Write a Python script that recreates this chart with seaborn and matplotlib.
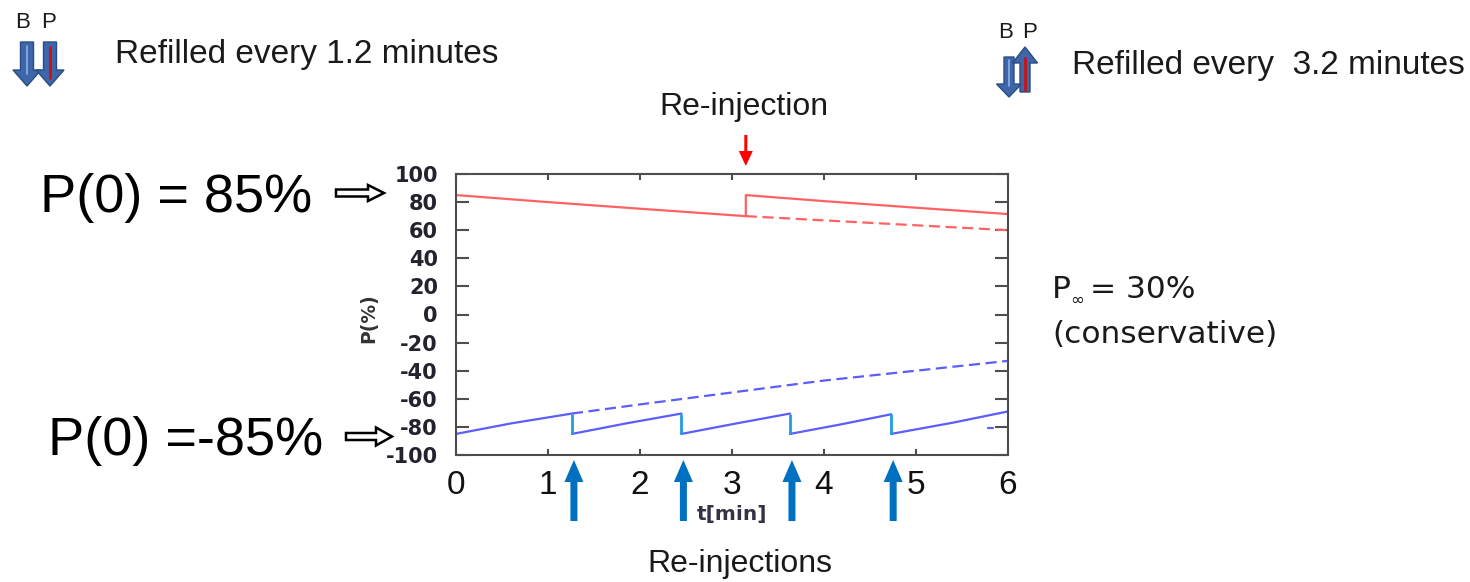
import numpy as np
import pandas as pd
import matplotlib
matplotlib.use("Agg")
import matplotlib.pyplot as plt
from matplotlib.patches import FancyArrow
from matplotlib.lines import Line2D
import seaborn as sns

# ---- data -----------------------------------------------------------------
# upper cell (P(0) = 85 %): one re-injection at t = 3.15 min
red_t = [0.0, 1.0, 2.0, 3.15, 3.15, 4.0, 5.0, 6.0]
red_p = [85.0, 80.0, 75.3, 70.0, 85.0, 80.7, 76.0, 71.5]
# same cell without re-injection
red_free_t = [3.15, 4.0, 5.0, 6.0]
red_free_p = [70.0, 67.0, 63.5, 60.0]

# lower cell (P(0) = -85 %): refilled every ~1.2 min
blue_seg = [0, 0, 0, 1, 1, 1, 2, 2, 2, 3, 3, 3, 4, 4, 4, 5, 5]
blue_t = [0.0, 0.6, 1.26, 1.26, 1.85, 2.45, 2.45, 3.05, 3.63,
          3.63, 4.2, 4.73, 4.73, 5.4, 6.0, 5.78, 5.84]
blue_p = [-85.0, -77.5, -70.5, -85.0, -77.5, -70.5, -85.0, -77.5, -70.5,
          -85.0, -78.0, -71.0, -85.0, -77.0, -69.0, -80.5, -80.5]
# same cell without refills
blue_free_t = [1.26, 2.0, 3.0, 4.0, 5.0, 6.0]
blue_free_p = [-70.5, -64.0, -55.5, -47.0, -40.0, -33.0]

# refill instants and the jump they produce
refill_t = [1.26, 2.45, 3.63, 4.73]
refill_from = [-70.5, -70.5, -70.5, -71.0]
refill_to = [-85.0, -85.0, -85.0, -85.0]

x_ticks = [0, 1, 2, 3, 4, 5, 6]
y_ticks = [-100, -80, -60, -40, -20, 0, 20, 40, 60, 80, 100]

# ---- figure ---------------------------------------------------------------
W, H, DPI = 1470, 582, 100
sns.set_theme(style="white")
plt.rcParams["font.family"] = ["Liberation Sans", "DejaVu Sans"]

fig = plt.figure(figsize=(W / DPI, H / DPI), dpi=DPI)
fig.patch.set_facecolor("white")
ax = fig.add_axes([456 / W, (H - 455) / H, 552 / W, 281 / H])

RED = "#ff6262"
BLUE = "#5c5cff"
CYAN = "#1c9ee0"
LW = 1.6

df_blue = pd.DataFrame({"t": blue_t, "P": blue_p, "seg": blue_seg})

sns.lineplot(x=red_t, y=red_p, estimator=None, sort=False, color=RED, lw=LW, ax=ax)
sns.lineplot(x=red_free_t, y=red_free_p, estimator=None, sort=False, color=RED,
             lw=LW, linestyle=(0, (5, 2.5)), ax=ax)
sns.lineplot(data=df_blue, x="t", y="P", units="seg", estimator=None, sort=False,
             color=BLUE, lw=LW, ax=ax)
sns.lineplot(x=blue_free_t, y=blue_free_p, estimator=None, sort=False, color=BLUE,
             lw=LW, linestyle=(0, (5, 2.5)), ax=ax)
ax.vlines(refill_t, refill_to, refill_from, color=CYAN, lw=2)

ax.set_xlim(0, 6)
ax.set_ylim(-100, 100)
ax.set_xticks(x_ticks)
ax.set_yticks(y_ticks)
ax.set_xticklabels([str(v) for v in x_ticks])
ax.set_yticklabels([str(v) for v in y_ticks])

for s in ax.spines.values():
    s.set_visible(True)
    s.set_color("#4d4d4d")
    s.set_linewidth(1.5)

ax.tick_params(axis="y", direction="in", length=9.5, width=1.5, color="#4d4d4d",
               left=True, right=True, pad=13, labelsize=15, labelcolor="#22232e")
ax.tick_params(axis="x", direction="in", length=4, width=1.5, color="#4d4d4d",
               top=True, bottom=True, pad=11, labelsize=24, labelcolor="#111111")
for lab in ax.get_yticklabels():
    lab.set_fontfamily("DejaVu Sans")
    lab.set_fontweight("bold")

ax.set_xlabel("t[min]", fontsize=14.5, fontweight="bold", family="DejaVu Sans",
              color="#333344")
ax.xaxis.set_label_coords(0.5, -0.178)
ax.set_ylabel("P(%)", fontsize=13.5, fontweight="bold", family="DejaVu Sans",
              color="#333333")
ax.yaxis.set_label_coords(-0.141, 0.4875)


# ---- annotations (pixel positions, origin top-left) -----------------------
def fx(x):
    return x / W


def fy(y):
    return 1 - y / H


def arrow_px(x0, y0, x1, y1, width, head_w, head_l, **kw):
    X0, Y0 = x0 / DPI, (H - y0) / DPI
    X1, Y1 = x1 / DPI, (H - y1) / DPI
    a = FancyArrow(X0, Y0, X1 - X0, Y1 - Y0, width=width / DPI,
                   head_width=head_w / DPI, head_length=head_l / DPI,
                   length_includes_head=True, transform=fig.dpi_scale_trans, **kw)
    fig.add_artist(a)


def line_px(xs, ys, **kw):
    fig.add_artist(Line2D([fx(x) for x in xs], [fy(y) for y in ys],
                          transform=fig.transFigure, **kw))


def data_x_px(t):
    return ax.transData.transform((t, 0))[0]


TXT = "#1a1a1a"

# top-left: both cells pointing down
fig.text(fx(15), fy(28), "B", fontsize=16, color=TXT)
fig.text(fx(41), fy(28), "P", fontsize=16, color=TXT)
ICON = dict(fc="#3d67aa", ec="#2c4c80", lw=1)
arrow_px(27, 42, 27, 86, 13, 28, 16, **ICON)
arrow_px(50, 42, 50, 86, 13, 28, 16, **ICON)
line_px([27, 27], [46, 74], color="#8db0e4", lw=1.2)
line_px([50, 50], [47, 78], color="#d01010", lw=2)
fig.text(fx(115), fy(63), "Refilled every 1.2 minutes", fontsize=24, color=TXT)

# top-right: cells pointing opposite ways
fig.text(fx(998), fy(38), "B", fontsize=16, color=TXT)
fig.text(fx(1022), fy(38), "P", fontsize=16, color=TXT)
arrow_px(1009, 57, 1009, 97, 10, 25, 13, **ICON)
arrow_px(1025, 92, 1025, 47, 10, 25, 16, **ICON)
line_px([1009, 1009], [60, 86], color="#8db0e4", lw=1.2)
line_px([1025, 1025], [58, 90], color="#d01010", lw=2)
fig.text(fx(1072), fy(74), "Refilled every  3.2 minutes", fontsize=24, color=TXT)

# single re-injection of the upper cell
xr = data_x_px(3.15)
fig.text(fx(744), fy(115), "Re-injection", fontsize=23, color=TXT, ha="center")
arrow_px(xr, 135, xr, 166, 3, 14, 15, fc="#ff0000", ec="#ff0000", lw=0)

# initial polarizations
fig.text(fx(40), fy(212), "P(0) = 85%", fontsize=39, color="#000000")
fig.text(fx(48), fy(455), "P(0) =-85%", fontsize=39, color="#000000")
HOLLOW = dict(fc="white", ec="black", lw=1.8)
arrow_px(336, 193, 384, 193, 7, 16, 16, **HOLLOW)
arrow_px(346, 436.5, 392, 436.5, 7, 18, 16, **HOLLOW)

# asymptotic value
DJ = ["DejaVu Sans"]
fig.text(fx(1052), fy(298), "P", fontsize=22.5, color=TXT, family=DJ)
fig.text(fx(1070), fy(305), "\u221e", fontsize=12, color=TXT, family=DJ)
fig.text(fx(1090), fy(298), "= 30%", fontsize=22.5, color=TXT, family=DJ)
fig.text(fx(1052), fy(343), "(conservative)", fontsize=22.5, color=TXT, family=DJ)

# refills of the lower cell
for t in refill_t:
    xb = data_x_px(t) + 2
    arrow_px(xb, 521, xb, 460, 7, 19, 22, fc="#0070c0", ec="#0070c0", lw=0)
fig.text(fx(740), fy(572), "Re-injections", fontsize=23, color=TXT, ha="center")

fig.savefig("out.png", dpi=DPI, facecolor="white")
